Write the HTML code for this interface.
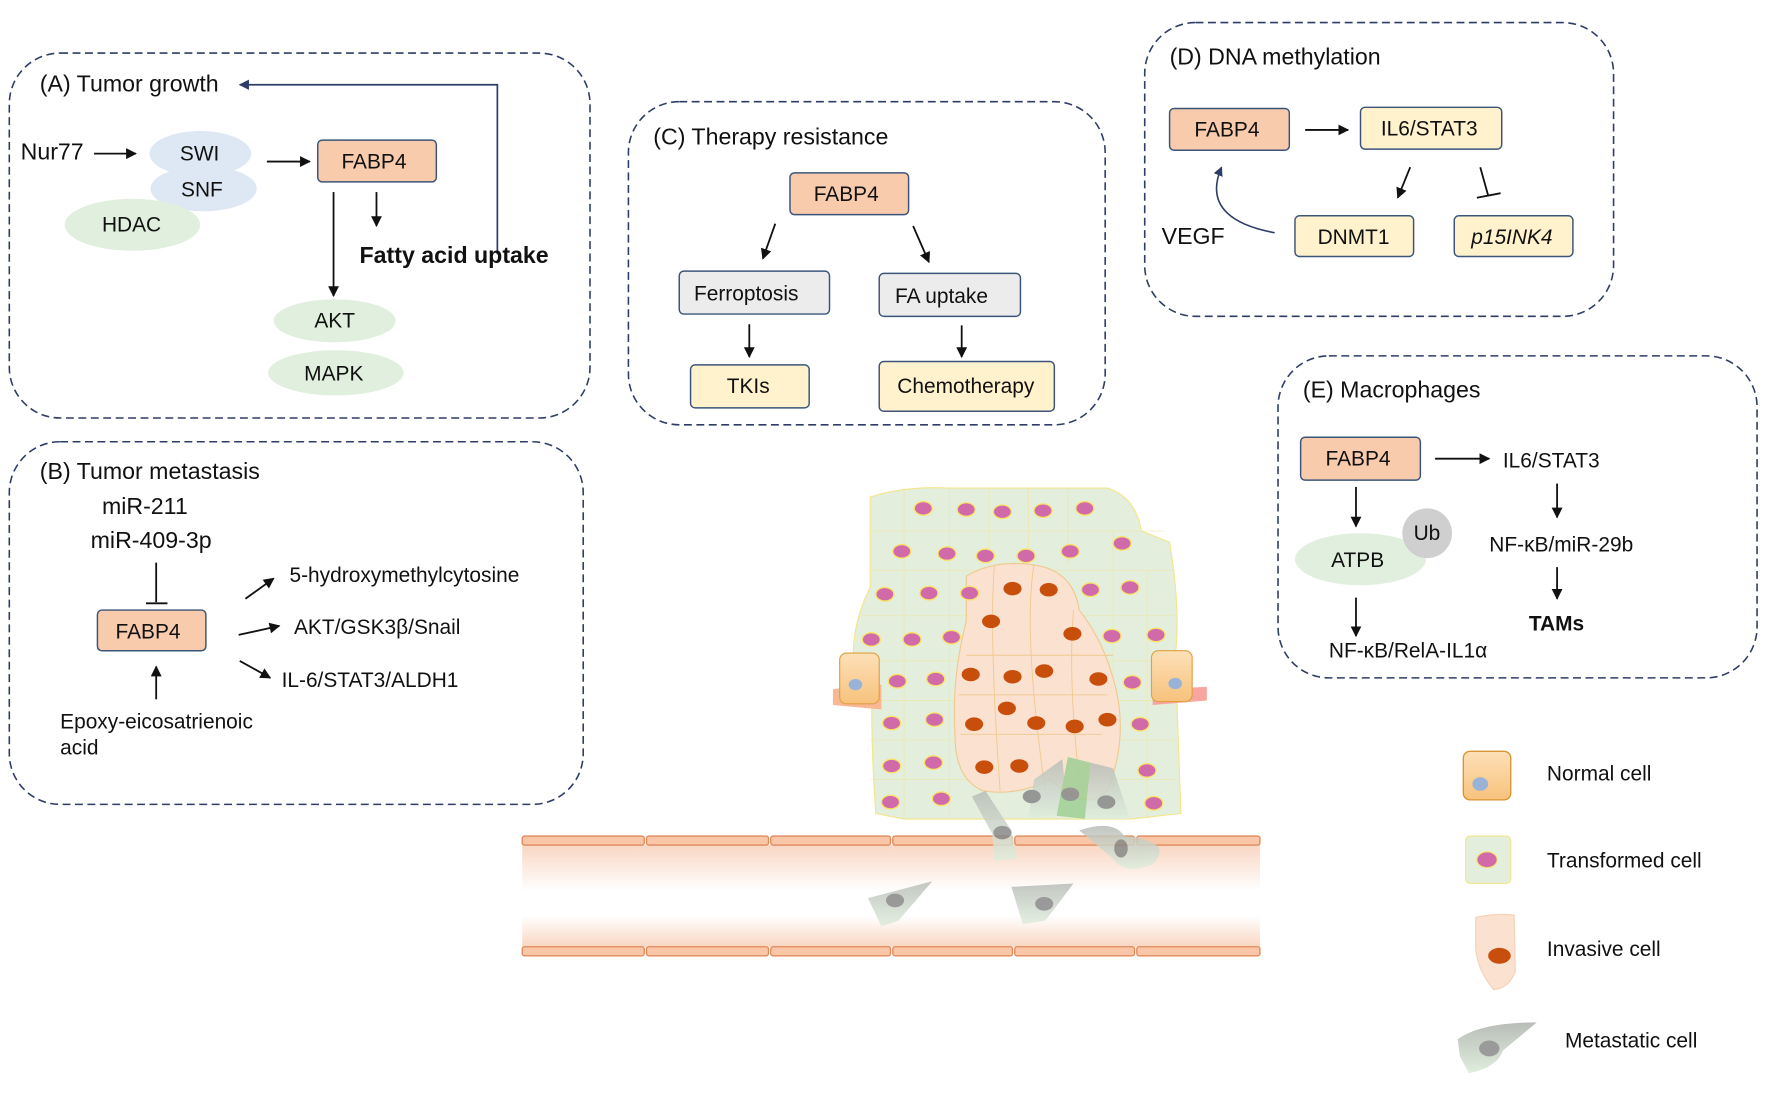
<!DOCTYPE html>
<html><head><meta charset="utf-8"><style>
html,body{margin:0;padding:0;background:#fff;}
svg{display:block;}
text{font-family:"Liberation Sans",sans-serif;fill:#111;}
.t{font-size:20.5px;}
.s{font-size:18.5px;}
.panel{fill:none;stroke:#2e3d66;stroke-width:1.4;stroke-dasharray:7 4;}
.box{stroke:#3b557a;stroke-width:1.3;}
.ar{stroke:#111;stroke-width:1.6;fill:none;marker-end:url(#ah);}
.ln{stroke:#111;stroke-width:1.6;fill:none;}
</style></head><body>
<svg width="1772" height="1097" viewBox="0 0 1568 971" xmlns="http://www.w3.org/2000/svg">
<defs>
<marker id="ah" viewBox="0 0 10 10" refX="9" refY="5" markerWidth="6" markerHeight="6" orient="auto"><path d="M0,0 L10,5 L0,10 z" fill="#111"/></marker>
<marker id="ahb" viewBox="0 0 10 10" refX="9" refY="5" markerWidth="6" markerHeight="6" orient="auto"><path d="M0,0 L10,5 L0,10 z" fill="#2e3d66"/></marker>
<linearGradient id="ves" x1="0" y1="0" x2="0" y2="1"><stop offset="0" stop-color="#f9d6c2"/><stop offset="0.45" stop-color="#fff"/><stop offset="0.7" stop-color="#fff"/><stop offset="1" stop-color="#f9d6c2"/></linearGradient>
<linearGradient id="norm" x1="0" y1="0" x2="0" y2="1"><stop offset="0" stop-color="#fde0b8"/><stop offset="1" stop-color="#f7c27c"/></linearGradient>
<linearGradient id="met" x1="0" y1="0" x2="0" y2="1"><stop offset="0" stop-color="#b9bdb8"/><stop offset="1" stop-color="#dfeedd"/></linearGradient>
</defs>

<!-- Panel A -->
<rect class="panel" x="8" y="47" width="514" height="323" rx="45"/>
<text class="t" x="35" y="81">(A) Tumor growth</text>
<path d="M440,225 V75 H212" stroke="#2e3d66" stroke-width="1.5" fill="none" marker-end="url(#ahb)"/>
<text class="t" x="18" y="141">Nur77</text>
<path class="ar" d="M83,136 H120"/>
<ellipse cx="177" cy="136" rx="45" ry="20" fill="#dde8f4"/>
<ellipse cx="180" cy="167" rx="47" ry="20" fill="#dde8f4"/>
<ellipse cx="117" cy="199" rx="60" ry="23" fill="#e1efde"/>
<text class="s" x="159" y="142">SWI</text>
<text class="s" x="160" y="174">SNF</text>
<text class="s" x="90" y="205">HDAC</text>
<path class="ar" d="M236,143 H274"/>
<rect class="box" x="281" y="124" width="105" height="37" rx="4" fill="#f8cbad"/>
<text class="s" x="302" y="149">FABP4</text>
<path class="ar" d="M295,170 V262"/>
<path class="ar" d="M333,170 V200"/>
<text x="318" y="233" style="font-size:20.5px;font-weight:bold">Fatty acid uptake</text>
<ellipse cx="296" cy="284" rx="54" ry="19" fill="#e1efde"/>
<ellipse cx="297" cy="330" rx="60" ry="20" fill="#e1efde"/>
<text class="s" x="278" y="290">AKT</text>
<text class="s" x="269" y="337">MAPK</text>

<!-- Panel B -->
<rect class="panel" x="8" y="391" width="508" height="321" rx="45"/>
<text class="t" x="35" y="424">(B) Tumor metastasis</text>
<text class="t" x="90" y="455">miR-211</text>
<text class="t" x="80" y="485">miR-409-3p</text>
<path class="ln" d="M138,498 V533 M129,534 H148"/>
<rect class="box" x="86" y="540" width="96" height="36" rx="4" fill="#f8cbad"/>
<text class="s" x="102" y="565">FABP4</text>
<path class="ar" d="M138,619 V590"/>
<text class="s" x="53" y="645">Epoxy-eicosatrienoic</text>
<text class="s" x="53" y="668">acid</text>
<path class="ar" d="M217,530 L242,512"/>
<path class="ar" d="M211,562 L247,554"/>
<path class="ar" d="M212,585 L239,600"/>
<text class="s" x="256" y="515">5-hydroxymethylcytosine</text>
<text class="s" x="260" y="561">AKT/GSK3β/Snail</text>
<text class="s" x="249" y="608">IL-6/STAT3/ALDH1</text>

<!-- Panel C -->
<rect class="panel" x="556" y="90" width="422" height="286" rx="45"/>
<text class="t" x="578" y="128">(C) Therapy resistance</text>
<rect class="box" x="699" y="153" width="105" height="37" rx="4" fill="#f8cbad"/>
<text class="s" x="720" y="178">FABP4</text>
<path class="ar" d="M686,198 L675,229"/>
<path class="ar" d="M808,200 L822,232"/>
<rect class="box" x="601" y="240" width="133" height="38" rx="4" fill="#ececec"/>
<text class="s" x="614" y="266">Ferroptosis</text>
<rect class="box" x="778" y="242" width="125" height="38" rx="4" fill="#ececec"/>
<text class="s" x="792" y="268">FA uptake</text>
<path class="ar" d="M663,287 V316"/>
<path class="ar" d="M851,288 V316"/>
<rect class="box" x="611" y="323" width="105" height="38" rx="4" fill="#fff2cc"/>
<text class="s" x="643" y="348">TKIs</text>
<rect class="box" x="778" y="320" width="155" height="44" rx="4" fill="#fff2cc"/>
<text class="s" x="794" y="348">Chemotherapy</text>

<!-- Panel D -->
<rect class="panel" x="1013" y="20" width="415" height="260" rx="45"/>
<text class="t" x="1035" y="57">(D) DNA methylation</text>
<rect class="box" x="1035" y="96" width="106" height="37" rx="4" fill="#f8cbad"/>
<text class="s" x="1057" y="121">FABP4</text>
<path class="ar" d="M1155,115 H1193"/>
<rect class="box" x="1204" y="95" width="125" height="37" rx="4" fill="#fff2cc"/>
<text class="s" x="1222" y="120">IL6/STAT3</text>
<path class="ar" d="M1248,148 L1237,175"/>
<path class="ln" d="M1310,148 L1317,173 M1307,175 L1328,171"/>
<rect class="box" x="1146" y="191" width="105" height="36" rx="4" fill="#fff2cc"/>
<text class="s" x="1166" y="216">DNMT1</text>
<rect class="box" x="1287" y="191" width="105" height="36" rx="4" fill="#fff2cc"/>
<text class="s" x="1302" y="216" style="font-style:italic">p15INK4</text>
<text class="t" x="1028" y="216">VEGF</text>
<path d="M1128,206 C1095,200 1065,185 1081,148" stroke="#2e3d66" stroke-width="1.4" fill="none" marker-end="url(#ahb)"/>

<!-- Panel E -->
<rect class="panel" x="1131" y="315" width="424" height="285" rx="45"/>
<text class="t" x="1153" y="352">(E) Macrophages</text>
<rect class="box" x="1151" y="387" width="106" height="38" rx="4" fill="#f8cbad"/>
<text class="s" x="1173" y="412">FABP4</text>
<path class="ar" d="M1270,406 H1318"/>
<text class="s" x="1330" y="414">IL6/STAT3</text>
<path class="ar" d="M1378,428 V458"/>
<text class="s" x="1318" y="488">NF-κB/miR-29b</text>
<path class="ar" d="M1378,502 V530"/>
<text x="1353" y="558" style="font-size:18.5px;font-weight:bold">TAMs</text>
<path class="ar" d="M1200,431 V466"/>
<ellipse cx="1204" cy="495" rx="58" ry="23" fill="#e1efde"/>
<circle cx="1263" cy="472" r="22" fill="#cfcfcf"/>
<text class="s" x="1178" y="502">ATPB</text>
<text class="s" x="1251" y="478">Ub</text>
<path class="ar" d="M1200,529 V563"/>
<text class="s" x="1176" y="582">NF-κB/RelA-IL1α</text>

<!-- Vessel -->
<rect x="462" y="748" width="653" height="90" fill="url(#ves)"/>
<g fill="#f9c7a8" stroke="#e08a5a" stroke-width="1.2">
<rect x="462" y="740" width="108" height="8" rx="2"/><rect x="572" y="740" width="108" height="8" rx="2"/><rect x="682" y="740" width="106" height="8" rx="2"/><rect x="790" y="740" width="106" height="8" rx="2"/><rect x="898" y="740" width="106" height="8" rx="2"/><rect x="1006" y="740" width="109" height="8" rx="2"/>
<rect x="462" y="838" width="108" height="8" rx="2"/><rect x="572" y="838" width="108" height="8" rx="2"/><rect x="682" y="838" width="106" height="8" rx="2"/><rect x="790" y="838" width="106" height="8" rx="2"/><rect x="898" y="838" width="106" height="8" rx="2"/><rect x="1006" y="838" width="109" height="8" rx="2"/>
</g>

<!-- Tumor -->
<path d="M770,440 Q800,430 840,432 L980,432 Q1005,440 1010,470 L1035,480 Q1045,540 1040,580 L1045,720 L1000,725 L800,725 L775,720 Q770,650 772,600 L755,580 Q755,550 770,520 Z" fill="#e3efdc" stroke="#f3e58a" stroke-width="1"/>
<g stroke="#f3e3a0" stroke-width="0.7" fill="none" opacity="0.7">
<path d="M770,470 H1030 M770,505 H1040 M760,545 H1040 M770,585 H1040 M770,620 H1040 M770,655 H1040 M770,690 H1040"/>
<path d="M800,432 V725 M840,432 V725 M875,432 V500 M910,432 V500 M945,432 V500 M985,470 V725 M1015,505 V725"/>
</g>
<path d="M855,510 Q880,495 915,500 Q950,505 955,540 Q975,565 985,600 Q1000,650 980,700 Q960,720 930,690 Q900,705 870,700 Q845,690 845,650 Q842,600 855,550 Z" fill="#fbe1cf" stroke="#f0c98f" stroke-width="1"/>
<g stroke="#f0c98f" stroke-width="0.8" fill="none">
<path d="M880,500 Q875,560 885,700 M915,500 Q905,560 925,700 M950,540 Q945,600 955,690 M855,580 H985 M848,615 H980 M850,650 H975"/>
</g>
<g fill="#d16aa9" stroke="#f7e36b" stroke-width="1.2">
<ellipse cx="817" cy="450" rx="8" ry="6"/><ellipse cx="855" cy="451" rx="8" ry="6"/><ellipse cx="887" cy="453" rx="8" ry="6"/><ellipse cx="923" cy="452" rx="8" ry="6"/><ellipse cx="960" cy="450" rx="8" ry="6"/>
<ellipse cx="798" cy="488" rx="8" ry="6"/><ellipse cx="838" cy="490" rx="8" ry="6"/><ellipse cx="872" cy="492" rx="8" ry="6"/><ellipse cx="908" cy="492" rx="8" ry="6"/><ellipse cx="947" cy="488" rx="8" ry="6"/><ellipse cx="993" cy="481" rx="8" ry="6"/>
<ellipse cx="783" cy="526" rx="8" ry="6"/><ellipse cx="822" cy="525" rx="8" ry="6"/><ellipse cx="858" cy="525" rx="8" ry="6"/><ellipse cx="965" cy="522" rx="8" ry="6"/><ellipse cx="1000" cy="520" rx="8" ry="6"/>
<ellipse cx="771" cy="566" rx="8" ry="6"/><ellipse cx="807" cy="566" rx="8" ry="6"/><ellipse cx="842" cy="564" rx="8" ry="6"/><ellipse cx="984" cy="563" rx="8" ry="6"/><ellipse cx="1023" cy="562" rx="8" ry="6"/>
<ellipse cx="794" cy="603" rx="8" ry="6"/><ellipse cx="828" cy="601" rx="8" ry="6"/><ellipse cx="1002" cy="604" rx="8" ry="6"/>
<ellipse cx="789" cy="640" rx="8" ry="6"/><ellipse cx="827" cy="637" rx="8" ry="6"/><ellipse cx="1009" cy="641" rx="8" ry="6"/>
<ellipse cx="789" cy="678" rx="8" ry="6"/><ellipse cx="826" cy="675" rx="8" ry="6"/><ellipse cx="1015" cy="682" rx="8" ry="6"/>
<ellipse cx="788" cy="710" rx="8" ry="6"/><ellipse cx="833" cy="707" rx="8" ry="6"/><ellipse cx="1021" cy="711" rx="8" ry="6"/>
</g>
<g fill="#c84e0c">
<ellipse cx="896" cy="521" rx="8" ry="6"/><ellipse cx="928" cy="522" rx="8" ry="6"/><ellipse cx="877" cy="550" rx="8" ry="6"/><ellipse cx="949" cy="561" rx="8" ry="6"/>
<ellipse cx="859" cy="597" rx="8" ry="6"/><ellipse cx="896" cy="599" rx="8" ry="6"/><ellipse cx="924" cy="594" rx="8" ry="6"/><ellipse cx="972" cy="601" rx="8" ry="6"/>
<ellipse cx="891" cy="627" rx="8" ry="6"/><ellipse cx="862" cy="641" rx="8" ry="6"/><ellipse cx="917" cy="640" rx="8" ry="6"/><ellipse cx="951" cy="643" rx="8" ry="6"/><ellipse cx="980" cy="637" rx="8" ry="6"/>
<ellipse cx="871" cy="679" rx="8" ry="6"/><ellipse cx="902" cy="678" rx="8" ry="6"/>
</g>
<path d="M737,610 L780,606 L780,628 L737,624 Z" fill="#f8b894"/>
<rect x="743" y="578" width="35" height="45" rx="6" fill="url(#norm)" stroke="#e0a040"/>
<ellipse cx="757" cy="606" rx="6" ry="5" fill="#99b3d8"/>
<path d="M1020,610 L1068,608 L1068,620 L1020,624 Z" fill="#f8a5a0"/>
<rect x="1019" y="576" width="36" height="45" rx="6" fill="url(#norm)" stroke="#e0a040"/>
<ellipse cx="1040" cy="605" rx="6" ry="5" fill="#99b3d8"/>
<g opacity="0.85">
<path d="M915,690 L940,672 L945,720 L910,725 Z" fill="url(#met)"/><ellipse cx="913" cy="705" rx="8" ry="6" fill="#888"/>
<path d="M945,670 L965,675 L962,725 L935,722 Z" fill="#9fcf95"/><ellipse cx="947" cy="703" rx="8" ry="6" fill="#888"/>
<path d="M965,675 L985,680 L1000,725 L960,725 Z" fill="url(#met)"/><ellipse cx="979" cy="710" rx="8" ry="6" fill="#888"/>
<path d="M860,705 L872,700 L895,735 L900,760 L880,762 L878,738 Z" fill="url(#met)"/><ellipse cx="887" cy="737" rx="8" ry="6" fill="#888"/>
<path d="M955,735 Q985,725 995,740 Q1040,745 1020,765 Q995,775 985,760 Z" fill="url(#met)"/><ellipse cx="992" cy="751" rx="6" ry="8" fill="#888"/>
<path d="M768,795 L825,780 L795,815 L780,820 Z" fill="url(#met)"/><ellipse cx="792" cy="797" rx="8" ry="6" fill="#888"/>
<path d="M895,785 L950,782 L925,815 L905,818 Z" fill="url(#met)"/><ellipse cx="924" cy="800" rx="8" ry="6" fill="#888"/>
</g>

<!-- Legend -->
<rect x="1295" y="665" width="42" height="43" rx="6" fill="url(#norm)" stroke="#d89530" stroke-width="1.2"/>
<ellipse cx="1310" cy="694" rx="7" ry="6" fill="#99b3d8"/>
<text x="1369" y="691" style="font-size:18.5px">Normal cell</text>
<rect x="1297" y="740" width="40" height="42" rx="4" fill="#e3efdc" stroke="#f3e58a"/>
<ellipse cx="1316" cy="761" rx="9" ry="7" fill="#d16aa9" stroke="#f7e36b"/>
<text x="1369" y="768" style="font-size:18.5px">Transformed cell</text>
<path d="M1306,812 Q1325,808 1340,810 L1341,860 Q1335,875 1322,876 Q1308,860 1306,840 Z" fill="#fbe1cf" stroke="#f3d2b6"/>
<ellipse cx="1327" cy="846" rx="10" ry="7" fill="#c84e0c"/>
<text x="1369" y="846" style="font-size:18.5px">Invasive cell</text>
<path d="M1290,920 Q1310,905 1360,905 L1330,930 Q1325,945 1300,950 L1292,935 Z" fill="url(#met)"/>
<ellipse cx="1318" cy="928" rx="9" ry="7" fill="#9a9a9a"/>
<text x="1385" y="927" style="font-size:18.5px">Metastatic cell</text>
</svg>
</body></html>
